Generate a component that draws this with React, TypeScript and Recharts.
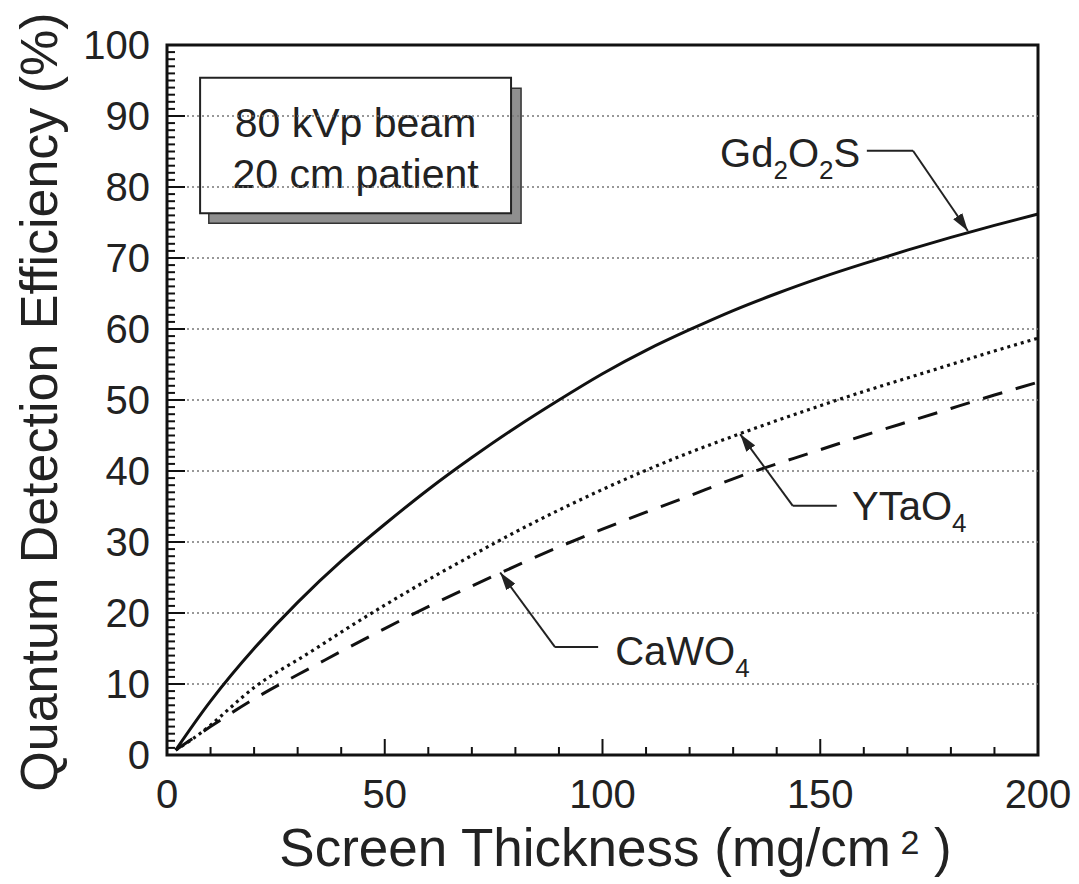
import React from "react";
import {
  Label,
  Line,
  LineChart,
  ReferenceArea,
  ReferenceDot,
  ReferenceLine,
  XAxis,
  YAxis,
} from "recharts";

// screen thickness (mg/cm^2) and quantum detection efficiency (%)
const thickness = [2, 10, 20, 30, 40, 50, 60, 70, 80, 90, 100, 110, 120, 130, 140, 150, 160, 170, 180, 190, 200];
const gd2o2s = [0.7, 7.6, 15.0, 21.5, 27.3, 32.5, 37.4, 41.9, 46.1, 50.0, 53.7, 57.0, 59.9, 62.6, 65.0, 67.2, 69.2, 71.1, 72.9, 74.6, 76.2];
const ytao4 = [0.7, 4.2, 9.5, 13.4, 17.3, 21.1, 24.7, 28.1, 31.4, 34.5, 37.4, 40.1, 42.6, 44.9, 47.1, 49.2, 51.2, 53.1, 55.0, 56.9, 58.7];
const cawo4 = [0.7, 4.0, 7.9, 11.3, 14.6, 17.8, 20.9, 23.8, 26.6, 29.3, 31.8, 34.2, 36.5, 38.9, 41.0, 43.0, 45.0, 46.9, 48.8, 50.7, 52.5];

const xTicks = Array.from({ length: 21 }, (_, i) => i * 10);
const yTicks = Array.from({ length: 101 }, (_, i) => i);
const gridValues = [10, 20, 30, 40, 50, 60, 70, 80, 90];

const boxLines = ["80 kVp beam", "20 cm patient"];

const data = thickness.map((t, i) => ({ t, gd: gd2o2s[i], yt: ytao4[i], ca: cawo4[i] }));

const FONT = "'Liberation Sans', Arial, Helvetica, sans-serif";

function XTick({ x, y, payload }: any) {
  const v = payload.value;
  const major = v % 50 === 0;
  return (
    <g>
      <line x1={x} x2={x} y1={y} y2={y - (major ? 16 : 8)} stroke="#111" strokeWidth={2} />
      {major && (
        <text x={x} y={y + 53} textAnchor="middle" fontSize={40} fill="#222" fontFamily={FONT}>
          {v}
        </text>
      )}
    </g>
  );
}

function YTick({ x, y, payload }: any) {
  const v = payload.value;
  const major = v % 10 === 0;
  return (
    <g>
      <line x1={x} x2={x + (major ? 18 : 8)} y1={y} y2={y} stroke="#111" strokeWidth={2} />
      {major && (
        <text x={x - 17} y={y} dy="0.36em" textAnchor="end" fontSize={40} fill="#222" fontFamily={FONT}>
          {v}
        </text>
      )}
    </g>
  );
}

// chemical formula with subscripts
function formula(parts: [string, boolean][]) {
  return (p: any) => {
    const vb = p.viewBox;
    const x = vb.x + vb.width / 2;
    const y = vb.y + vb.height / 2;
    let prevSub = false;
    return (
      <text x={x} y={y} fontSize={40} fill="#222" fontFamily={FONT}>
        {parts.map(([s, sub], i) => {
          const dy = sub && !prevSub ? 12 : !sub && prevSub ? -12 : 0;
          prevSub = sub;
          return (
            <tspan key={i} dy={dy} fontSize={sub ? 26 : 40}>
              {s}
            </tspan>
          );
        })}
      </text>
    );
  };
}

const leader = { stroke: "#222", strokeWidth: 2 };

export default function App() {
  return (
    <div style={{ position: "absolute", left: 0, top: 0, background: "#fff", fontFamily: FONT }}>
      <LineChart width={1079} height={884} data={data} margin={{ top: 45, right: 41, bottom: 0, left: 0 }}>
        <defs>
          <marker
            id="arrowHead"
            viewBox="0 0 10 10"
            refX="10"
            refY="5"
            markerUnits="userSpaceOnUse"
            markerWidth="18"
            markerHeight="11"
            orient="auto"
            preserveAspectRatio="none"
          >
            <path d="M0,0 L10,5 L0,10 z" fill="#222" />
          </marker>
        </defs>
        <XAxis
          dataKey="t"
          type="number"
          domain={[0, 200]}
          ticks={xTicks}
          interval={0}
          height={129}
          tickSize={0}
          tickMargin={0}
          axisLine={false}
          tickLine={false}
          tick={XTick}
        >
          <Label
            content={(p: any) => {
              const vb = p.viewBox;
              return (
                <text x={vb.x + vb.width / 2 + 13} y={vb.y + 111} textAnchor="middle" fontSize={53} fill="#222" fontFamily={FONT}>
                  <tspan>Screen Thickness (mg/cm</tspan>
                  <tspan dy={-12} fontSize={34}> 2</tspan>
                  <tspan dy={12}> )</tspan>
                </text>
              );
            }}
          />
        </XAxis>
        <YAxis
          type="number"
          domain={[0, 100]}
          ticks={yTicks}
          interval={0}
          width={167}
          tickSize={0}
          tickMargin={0}
          axisLine={false}
          tickLine={false}
          tick={YTick}
        >
          <Label
            content={(p: any) => {
              const vb = p.viewBox;
              const cx = 38;
              const cy = vb.y + vb.height / 2 + 2;
              return (
                <text
                  x={cx}
                  y={cy}
                  dy="0.36em"
                  textAnchor="middle"
                  fontSize={52}
                  fill="#222"
                  fontFamily={FONT}
                  transform={`rotate(-90 ${cx} ${cy})`}
                >
                  Quantum Detection Efficiency (%)
                </text>
              );
            }}
          />
        </YAxis>

        {gridValues.map((g) => (
          <ReferenceLine key={g} y={g} stroke="#777" strokeWidth={1.5} strokeDasharray="2 3" />
        ))}

        <Line type="natural" dataKey="gd" stroke="#111" strokeWidth={3} dot={false} isAnimationActive={false} />
        <Line
          type="natural"
          dataKey="yt"
          stroke="#111"
          strokeWidth={3.2}
          strokeDasharray="3 4"
          dot={false}
          isAnimationActive={false}
        />
        <Line
          type="natural"
          dataKey="ca"
          stroke="#111"
          strokeWidth={3}
          strokeDasharray="20 14"
          dot={false}
          isAnimationActive={false}
        />

        {/* info box with drop shadow */}
        <ReferenceArea x1={9.6} x2={81.3} y1={74.9} y2={93.9} fill="#8f8f8f" fillOpacity={1} stroke="#333" strokeWidth={1.5} />
        <ReferenceArea
          x1={7.6}
          x2={79}
          y1={76.3}
          y2={95.4}
          fill="#fff"
          fillOpacity={1}
          stroke="#222"
          strokeWidth={2}
          label={(p: any) => {
            const vb = p.viewBox;
            const cx = vb.x + vb.width / 2;
            return (
              <g>
                {boxLines.map((s, i) => (
                  <text key={s} x={cx} y={vb.y + 59 + i * 51} textAnchor="middle" fontSize={41} fill="#222" fontFamily={FONT}>
                    {s}
                  </text>
                ))}
              </g>
            );
          }}
        />

        {/* Gd2O2S callout */}
        <ReferenceLine segment={[{ x: 160.7, y: 85.1 }, { x: 171.3, y: 85.1 }]} {...leader} />
        <ReferenceLine segment={[{ x: 171.3, y: 85.1 }, { x: 183.9, y: 73.8 }]} {...leader} markerEnd="url(#arrowHead)" />
        <ReferenceDot
          x={127}
          y={82.8}
          r={0.01}
          fill="none"
          stroke="none"
          label={formula([["Gd", false], ["2", true], ["O", false], ["2", true], ["S", false]])}
        />

        {/* YTaO4 callout */}
        <ReferenceLine segment={[{ x: 153.8, y: 35.1 }, { x: 143.7, y: 35.1 }]} {...leader} />
        <ReferenceLine segment={[{ x: 143.7, y: 35.1 }, { x: 131.6, y: 45.2 }]} {...leader} markerEnd="url(#arrowHead)" />
        <ReferenceDot
          x={157.3}
          y={33.1}
          r={0.01}
          fill="none"
          stroke="none"
          label={formula([["YTaO", false], ["4", true]])}
        />

        {/* CaWO4 callout */}
        <ReferenceLine segment={[{ x: 99, y: 15.2 }, { x: 89.1, y: 15.2 }]} {...leader} />
        <ReferenceLine segment={[{ x: 89.1, y: 15.2 }, { x: 76.5, y: 25.7 }]} {...leader} markerEnd="url(#arrowHead)" />
        <ReferenceDot
          x={102.9}
          y={12.7}
          r={0.01}
          fill="none"
          stroke="none"
          label={formula([["CaWO", false], ["4", true]])}
        />

        {/* plot frame */}
        <ReferenceArea x1={0} x2={200} y1={0} y2={100} fill="none" stroke="#111" strokeWidth={3} />
      </LineChart>
    </div>
  );
}
